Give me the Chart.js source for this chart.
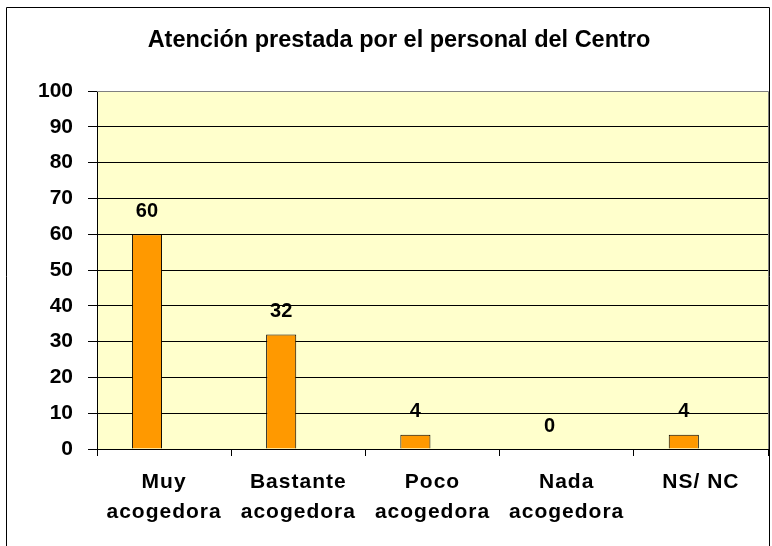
<!DOCTYPE html>
<html>
<head>
<meta charset="utf-8">
<script src="https://cdn.jsdelivr.net/npm/chart.js@4"></script>
<style>
  body { margin: 0; background: #fff; }
  canvas { display: block; }
</style>
</head>
<body>
<canvas id="myChart" width="772" height="546"></canvas>
<script>
// Datos del gráfico
const categorias = [['Muy', 'acogedora'], ['Bastante', 'acogedora'], ['Poco', 'acogedora'], ['Nada', 'acogedora'], ['NS/ NC']];
const valores = [60, 32, 4, 0, 4];
const serieVacia = [null, null, null, null, null];
const titulo = 'Atención prestada por el personal del Centro';
const yMin = 0, yMax = 100, yPaso = 10;

const fuente = 'Arial, "Liberation Sans", sans-serif';

// Fondo, marco exterior y borde del área de trazado
const fondo = {
    id: 'fondo',
    beforeDraw(chart) {
        const { ctx, chartArea: a } = chart;
        ctx.save();
        ctx.fillStyle = '#fff';
        ctx.fillRect(0, 0, chart.width, chart.height);
        ctx.strokeStyle = '#000';
        ctx.lineWidth = 1;
        ctx.beginPath();
        ctx.moveTo(6.5, 546);
        ctx.lineTo(6.5, 7.5);
        ctx.lineTo(769.5, 7.5);
        ctx.lineTo(769.5, 546);
        ctx.stroke();
        ctx.fillStyle = '#FFFFCC';
        ctx.fillRect(a.left, a.top, a.right - a.left, a.bottom - a.top);
        ctx.restore();
    },
    afterDraw(chart) {
        const { ctx, chartArea: a } = chart;
        ctx.save();
        ctx.strokeStyle = '#808080';
        ctx.lineWidth = 1;
        ctx.beginPath();
        ctx.moveTo(a.left, Math.round(a.top) + 0.5);
        ctx.lineTo(Math.round(a.right) + 0.5, Math.round(a.top) + 0.5);
        ctx.lineTo(Math.round(a.right) + 0.5, a.bottom);
        ctx.stroke();
        ctx.restore();
    }
};

// Etiquetas de valor encima de las barras
const etiquetas = {
    id: 'etiquetas',
    afterDatasetsDraw(chart) {
        const { ctx } = chart;
        const meta = chart.getDatasetMeta(0);
        ctx.save();
        ctx.font = 'bold 20px ' + fuente;
        ctx.fillStyle = '#000';
        ctx.textAlign = 'center';
        ctx.textBaseline = 'middle';
        meta.data.forEach((bar, i) => {
            ctx.fillText(valores[i], bar.x, bar.y - 23);
        });
        ctx.restore();
    }
};

// Etiquetas del eje X con algo de espaciado entre letras
function espaciarEtiquetas(scale) {
    if (scale._espaciado) return;
    const original = scale.drawLabels.bind(scale);
    scale.drawLabels = function (area) {
        scale.ctx.save();
        scale.ctx.letterSpacing = '1px';
        original(area);
        scale.ctx.restore();
    };
    scale._espaciado = true;
}

const ctx = document.getElementById('myChart');

new Chart(ctx, {
    type: 'bar',
    data: {
        labels: categorias,
        datasets: [{
            label: 'Serie1',
            data: valores,
            backgroundColor: '#FF9900',
            borderColor: '#000',
            borderWidth: 1,
            categoryPercentage: 0.51,
            barPercentage: 0.88
        }, {
            label: 'Serie2',
            data: serieVacia,
            backgroundColor: '#FF9900',
            categoryPercentage: 0.51,
            barPercentage: 0.88
        }]
    },
    options: {
        responsive: false,
        animation: false,
        layout: { padding: { left: 30, right: 4, top: 0, bottom: 0 } },
        plugins: {
            legend: { display: false },
            tooltip: { enabled: false },
            title: {
                display: true,
                text: titulo,
                color: '#000',
                font: { family: fuente, size: 23.5, weight: 'bold', lineHeight: 1.2 },
                padding: { top: 26, bottom: 36.8 }
            }
        },
        scales: {
            x: {
                afterFit(scale) { scale.height = 97; },
                afterUpdate: espaciarEtiquetas,
                grid: {
                    offset: true,
                    drawOnChartArea: false,
                    drawTicks: true,
                    tickLength: 7,
                    color: '#000'
                },
                border: { color: '#000', width: 1 },
                ticks: {
                    color: '#000',
                    padding: 11,
                    maxRotation: 0,
                    autoSkip: false,
                    font: { family: fuente, size: 21, weight: 'bold', lineHeight: 1.45 }
                }
            },
            y: {
                min: yMin,
                max: yMax,
                afterFit(scale) { scale.width = 67; },
                grid: {
                    color: c => (c.tick && c.tick.value === yMax ? '#808080' : '#000'),
                    tickColor: '#000',
                    tickLength: 9,
                    lineWidth: 1
                },
                border: { color: '#000', width: 1 },
                ticks: {
                    stepSize: yPaso,
                    color: '#000',
                    padding: 15,
                    font: { family: fuente, size: 21, weight: 'bold' }
                }
            }
        }
    },
    plugins: [fondo, etiquetas]
});
</script>
</body>
</html>
